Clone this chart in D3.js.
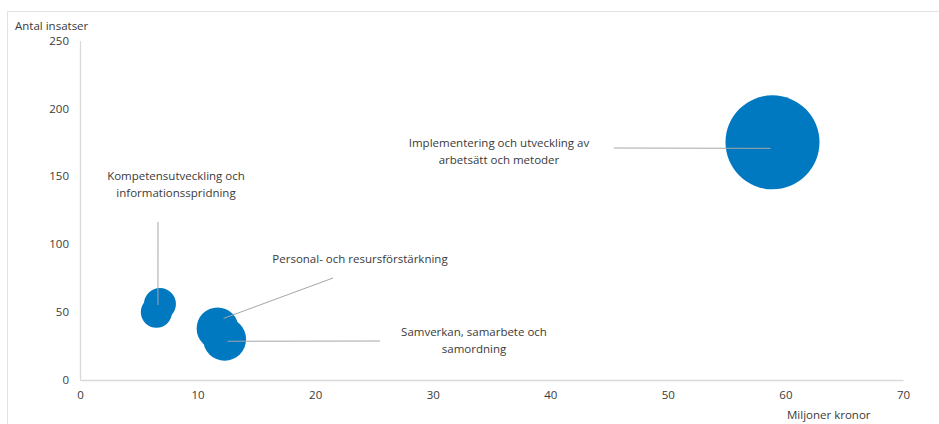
<!DOCTYPE html>
<html lang="sv">
<head>
<meta charset="utf-8">
<script src="https://cdn.jsdelivr.net/npm/d3@7"></script>
<style>
  html, body { margin: 0; padding: 0; background: #fff; }
  svg { display: block; font-family: "Open Sans", "Noto Sans", sans-serif; }
</style>
</head>
<body>
<svg id="chart" width="939" height="424"></svg>
<script>
// Insatsområden: kostnad (miljoner kronor) mot antal insatser; bubblans yta = kostnad
const areas = [
  "Implementering och utveckling av arbetsätt och metoder",
  "Kompetensutveckling och informationsspridning",
  "Kompetensutveckling (övrigt)",
  "Personal- och resursförstärkning",
  "Samverkan, samarbete och samordning"
];
const millionKronor = [58.9, 6.8, 6.5, 11.7, 12.3];
const numberOfInitiatives = [175, 56, 50, 38, 30];

const xTicks = [0, 10, 20, 30, 40, 50, 60, 70];
const yTicks = [0, 50, 100, 150, 200, 250];

// Data label text (line by line) per bubble; null = no label
const labelLines = [
  ["Implementering och utveckling av", "arbetsätt och metoder"],
  ["Kompetensutveckling och", "informationsspridning"],
  null,
  ["Personal- och resursförstärkning"],
  ["Samverkan, samarbete och", "samordning"]
];

// Label placement: text centre and leader start, in pixels
const labelLayout = [
  { tx: 499, ty: 143, lx: 614, ly: 148, ex: -2, ey: 6 },
  { tx: 176, ty: 176, lx: 158, ly: 222, ex: -2, ey: 1 },
  null,
  { tx: 360, ty: 259, lx: 333, ly: 278, ex: 6, ey: -10 },
  { tx: 474, ty: 332, lx: 380, ly: 341, ex: 3, ey: 2 }
];

const svg = d3.select("#chart");
const W = 939, H = 424;
const plot = { left: 80, right: 903, top: 40.5, bottom: 380 };

const fontSize = "11.5px";
const textColor = "#3a3a3a";
const axisColor = "#d9d9d9";
const bubbleColor = "#0079c1";

// outer chart frame
svg.append("rect")
  .attr("x", 7.5).attr("y", 11.5)
  .attr("width", W + 10).attr("height", H + 10)
  .attr("fill", "none").attr("stroke", "#e3e3e3").attr("stroke-width", 1);

const x = d3.scaleLinear().domain([0, 70]).range([plot.left, plot.right]);
const y = d3.scaleLinear().domain([0, 250]).range([plot.bottom, plot.top]);
const r = d3.scaleSqrt().domain([0, d3.max(millionKronor)]).range([0, 47]);

// axes
const xAxis = svg.append("g")
  .attr("transform", `translate(0,${plot.bottom})`)
  .call(d3.axisBottom(x).tickValues(xTicks).tickSize(0).tickPadding(11).tickFormat(d3.format("d")));
const yAxis = svg.append("g")
  .attr("transform", `translate(${plot.left},0)`)
  .call(d3.axisLeft(y).tickValues(yTicks).tickSize(0).tickPadding(11).tickFormat(d3.format("d")));

[xAxis, yAxis].forEach(g => {
  g.select(".domain").attr("stroke", axisColor).attr("stroke-width", 1.3);
  g.selectAll("text")
    .attr("fill", textColor)
    .style("font-size", fontSize)
    .style("font-family", "'Open Sans', 'Noto Sans', sans-serif");
});

// axis titles
svg.append("text")
  .attr("x", 15).attr("y", 30)
  .attr("fill", textColor).style("font-size", fontSize)
  .text("Antal insatser");
svg.append("text")
  .attr("x", 787).attr("y", 419)
  .attr("fill", textColor).style("font-size", fontSize)
  .text("Miljoner kronor");

// bubbles
const points = areas.map((name, i) => ({
  name,
  amount: millionKronor[i],
  count: numberOfInitiatives[i],
  lines: labelLines[i],
  layout: labelLayout[i]
}));

svg.append("g")
  .selectAll("circle")
  .data(points)
  .join("circle")
  .attr("cx", d => x(d.amount))
  .attr("cy", d => y(d.count))
  .attr("r", d => r(d.amount))
  .attr("fill", bubbleColor);

// leader lines and data labels
const labelled = points.filter(d => d.lines);

svg.append("g")
  .selectAll("line")
  .data(labelled)
  .join("line")
  .attr("x1", d => d.layout.lx)
  .attr("y1", d => d.layout.ly)
  .attr("x2", d => x(d.amount) + d.layout.ex)
  .attr("y2", d => y(d.count) + d.layout.ey)
  .attr("stroke", "#a6a6a6")
  .attr("stroke-width", 1);

const labels = svg.append("g")
  .selectAll("text")
  .data(labelled)
  .join("text")
  .attr("text-anchor", "middle")
  .attr("fill", textColor)
  .style("font-size", fontSize);

const lineHeight = 17;
labels.each(function(d) {
  const t = d3.select(this);
  d.lines.forEach((line, k) => {
    t.append("tspan")
      .attr("x", d.layout.tx)
      .attr("y", d.layout.ty + k * lineHeight + 4)
      .text(line);
  });
});
</script>
</body>
</html>
